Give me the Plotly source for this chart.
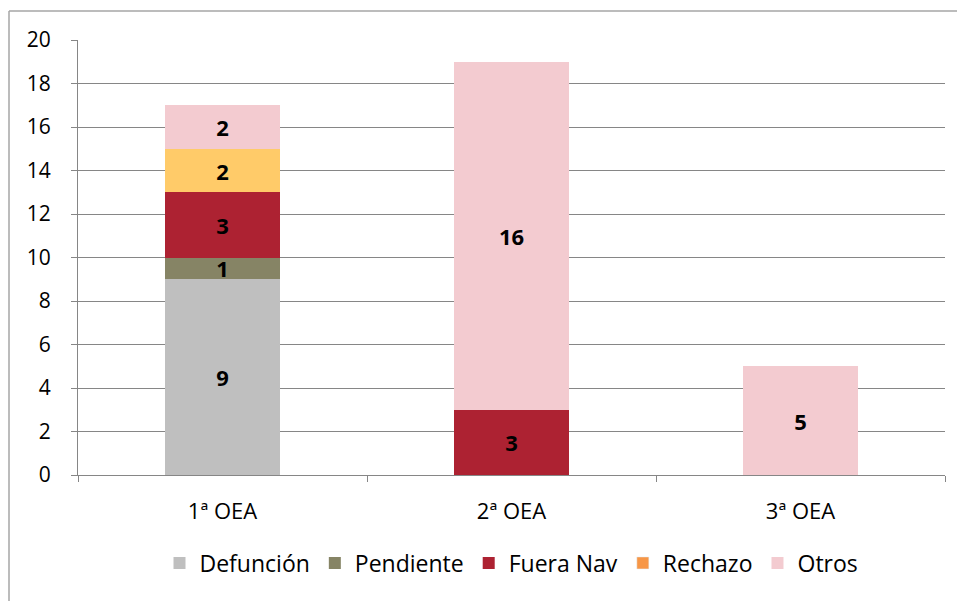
import plotly.graph_objects as go

categories = ["1ª OEA", "2ª OEA", "3ª OEA"]
defuncion = [9, None, None]
pendiente = [1, None, None]
fuera_nav = [3, 3, None]
rechazo = [2, None, None]
otros = [2, 16, 5]

y_ticks = list(range(0, 21, 2))

FONT = "Open Sans"
series = [
    ("Defunción", defuncion, "#BFBFBF"),
    ("Pendiente", pendiente, "#868465"),
    ("Fuera Nav", fuera_nav, "#AD2232"),
    ("Rechazo", rechazo, "#FFCB69"),
    ("Otros", otros, "#F3CBD0"),
]

fig = go.Figure()
for name, vals, color in series:
    txt = [str(v) if v else "" for v in vals]
    show = name != "Rechazo"
    fig.add_trace(go.Bar(
        x=categories, y=vals, name=name, marker_color=color,
        marker_line_width=0, text=txt, textposition="inside",
        insidetextanchor="middle", textangle=0, constraintext="none",
        textfont=dict(family=FONT, size=22, color="black", weight="bold"),
        showlegend=show, legendgroup=name, width=0.4,
    ))
    if name == "Rechazo":
        fig.add_trace(go.Bar(
            x=[None], y=[None], name=name, marker_color="#F79646",
            legendgroup=name, showlegend=True,
        ))

# page is offset by the 8px body margin, so figure is 8px smaller
W, H = 957, 593
L, R, T, B = 70, 20, 32, 126
pw, ph = W - L - R, H - T - B

def px_x(px):
    return (px - L) / pw

def px_y(py):
    return (H - B - py) / ph

fig.update_layout(
    width=W, height=H,
    margin=dict(l=L, r=R, t=T, b=B),
    barmode="stack",
    plot_bgcolor="white", paper_bgcolor="white",
    font=dict(family=FONT, size=21, color="black"),
    showlegend=True,
    legend=dict(orientation="h", x=0.5, xanchor="center", y=px_y(555), yanchor="middle",
                font=dict(family=FONT, size=23, color="black"),
                traceorder="normal", itemclick=False),
    uniformtext=dict(mode="show", minsize=22),
    shapes=[
        dict(type="line", xref="paper", yref="paper", x0=px_x(1), x1=px_x(W),
             y0=px_y(3), y1=px_y(3), line=dict(color="#A6A6A6", width=1.5)),
        dict(type="line", xref="paper", yref="paper", x0=px_x(1), x1=px_x(1),
             y0=px_y(3), y1=px_y(H), line=dict(color="#A6A6A6", width=1.5)),
    ],
)
fig.update_xaxes(
    showgrid=False, showline=True, linecolor="#868686", linewidth=1,
    ticks="outside", ticklen=6, tickcolor="#868686", tickson="boundaries",
    tickfont=dict(family=FONT, size=22), ticklabelstandoff=17,
)
fig.update_yaxes(
    range=[0, 20], tickvals=y_ticks, showgrid=True, gridcolor="#868686", gridwidth=1,
    showline=True, linecolor="#868686", linewidth=1, ticks="outside", ticklen=6,
    tickcolor="#868686", tickfont=dict(family=FONT, size=21), zeroline=False,
    ticklabelstandoff=16,
)

fig.write_html("out.html")
